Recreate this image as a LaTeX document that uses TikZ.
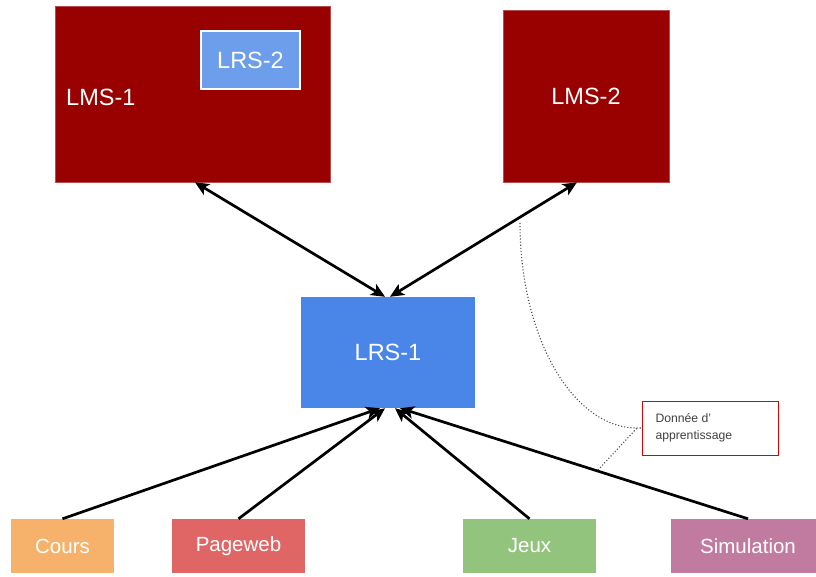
\documentclass[tikz,border=0pt]{standalone}
\usepackage{fontspec}
\setmainfont{Liberation Sans}
\usetikzlibrary{arrows.meta,calc}

\definecolor{lmsred}{HTML}{990000}
\definecolor{lrsblue}{HTML}{4A86E8}
\definecolor{lrslight}{HTML}{6D9EEB}
\definecolor{coursor}{HTML}{F6B26B}
\definecolor{pagered}{HTML}{E06666}
\definecolor{jeuxgreen}{HTML}{93C47D}
\definecolor{simpink}{HTML}{C27BA0}

\tikzset{
  box/.style={rectangle, inner sep=0pt, text=white, font=\fontsize{23.5}{26}\selectfont},
  srcbox/.style={box, minimum height=54pt, font=\fontsize{20.5}{24}\selectfont},
  link/.style={line width=2.7pt, draw=black, >={Stealth[length=14pt,width=12.5pt,inset=3.5pt]}},
  note/.style={draw=black!70, dotted, line width=1.1pt},
}

\begin{document}
\begin{tikzpicture}[x=1pt,y=-1pt]
\useasboundingbox (0,0) rectangle (816,577);

% systems
\node[box, fill=lmsred, draw=lmsred!70!white, line width=0.6pt,
      minimum width=275pt, minimum height=176pt] (lms1) at (192.5,94) {};
\node[box, anchor=west] (lms1txt) at (66,97) {LMS-1};
\node[box, fill=lrslight, draw=white, line width=1.5pt,
      minimum width=99pt, minimum height=58pt] (lrs2) at (250.5,60) {LRS-2};
\node[box, fill=lmsred, draw=lmsred!70!white, line width=0.6pt,
      minimum width=166pt, minimum height=172pt] (lms2) at (586,96) {LMS-2};
\node[box, fill=lrsblue, minimum width=174pt, minimum height=111pt] (lrs1) at (388,352.5) {LRS-1};

% content sources
\node[srcbox, fill=coursor, minimum width=103pt] (cours) at (62.5,546) {Cours};
\node[srcbox, fill=pagered, minimum width=133pt] (page) at (238.5,546) {Pageweb};
\node[srcbox, fill=jeuxgreen, minimum width=133pt] (jeux) at (529.5,546) {Jeux};
\node[srcbox, fill=simpink, minimum width=154pt] (sim) at (748,546) {Simulation};

% annotation
\node[rectangle, draw=red!85!black, line width=1pt, minimum width=136pt, minimum height=54pt,
      inner sep=0pt] (notebox) at (710,428) {};
\node[anchor=west, align=left, text=black!75, font=\fontsize{12.2}{17}\selectfont]
  (notetxt) at (652,428) {Donnée d'\\apprentissage};

% LMS <-> LRS links
\draw[link, <->] ($(lms1.south west)!0.509!(lms1.south east)$)
  -- ($(lrs1.north west)!0.483!(lrs1.north east)$);
\draw[link, <->] ($(lms2.south west)!0.446!(lms2.south east)$)
  -- ($(lrs1.north west)!0.511!(lrs1.north east)$);

% sources -> LRS-1
\draw[link, ->] ($(cours.north west)!0.5!(cours.north east)$)
  -- ($(lrs1.south west)!0.454!(lrs1.south east)$);
\draw[link, ->] ($(page.north west)!0.5!(page.north east)$)
  -- ($(lrs1.south west)!0.483!(lrs1.south east)$);
\draw[link, ->] ($(jeux.north west)!0.5!(jeux.north east)$)
  -- ($(lrs1.south west)!0.54!(lrs1.south east)$);
\draw[link, ->] ($(sim.north west)!0.5!(sim.north east)$)
  -- ($(lrs1.south west)!0.569!(lrs1.south east)$);

% dotted callout lines
\coordinate (joint) at (637,428);
\coordinate (ontop) at (520,223);
\coordinate (onbottom) at (598,470);
\draw[note] (ontop) .. controls (520,336) and (572,428) .. (joint) -- (notebox.west);
\draw[note] (onbottom) -- (joint);
\end{tikzpicture}
\end{document}
